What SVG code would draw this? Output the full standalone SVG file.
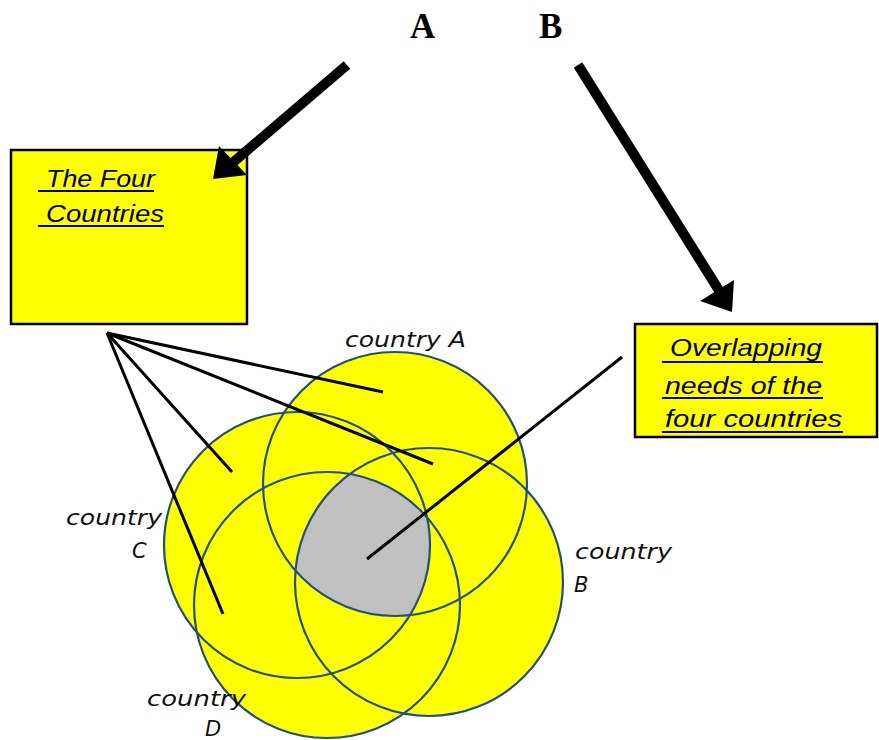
<svg xmlns="http://www.w3.org/2000/svg" width="879" height="740" viewBox="0 0 879 740">
<style>
.box{fill:#ffff00;stroke:#000;stroke-width:2.5}
.btxt{font-family:"Liberation Sans",Arial,sans-serif;font-style:italic;font-size:24px;fill:#000}
.ul{stroke:#000;stroke-width:2}
.ctxt{font-family:"DejaVu Sans","Liberation Sans",sans-serif;font-style:italic;font-size:21px;fill:#111}
.fill{fill:#ffff00}
.ring{fill:none;stroke:#1f4f88;stroke-width:2.2}
.conn{stroke:#000;stroke-width:3;stroke-linecap:butt;fill:none}
.big{stroke:#000;stroke-width:10;stroke-linecap:butt;fill:none}
.head{fill:#000}
.lbl{font-family:"Liberation Serif","Times New Roman",serif;font-weight:bold;font-size:35px;fill:#000}
</style>
<defs>
<clipPath id="cA"><circle cx="395" cy="484" r="132"/></clipPath>
<clipPath id="cB"><circle cx="429" cy="582" r="134"/></clipPath>
<clipPath id="cC"><circle cx="297" cy="545" r="133"/></clipPath>
</defs>
<rect width="879" height="740" fill="#fff"/>

<g id="label-A"><text class="lbl" x="410" y="38">A</text></g>
<g id="label-B"><text class="lbl" x="539" y="38">B</text></g>

<g id="venn">
<g id="fills">
<circle class="fill" cx="395" cy="484" r="132"/>
<circle class="fill" cx="297" cy="545" r="133"/>
<circle class="fill" cx="429" cy="582" r="134"/>
<circle class="fill" cx="327" cy="605" r="133"/>
</g>
<g id="overlap" clip-path="url(#cA)"><g clip-path="url(#cB)"><g clip-path="url(#cC)">
<circle cx="327" cy="605" r="133" fill="#c0c0c0"/>
</g></g></g>
<g id="country-A"><circle class="ring" cx="395" cy="484" r="132"/><text class="ctxt" x="345" y="347" textLength="121" lengthAdjust="spacingAndGlyphs">country A</text></g>
<g id="country-C"><circle class="ring" cx="297" cy="545" r="133"/><text class="ctxt" x="66" y="525" textLength="96" lengthAdjust="spacingAndGlyphs">country</text><text class="ctxt" x="132" y="558">C</text></g>
<g id="country-B"><circle class="ring" cx="429" cy="582" r="134"/><text class="ctxt" x="575" y="559" textLength="97" lengthAdjust="spacingAndGlyphs">country</text><text class="ctxt" x="574" y="592">B</text></g>
<g id="country-D"><circle class="ring" cx="327" cy="605" r="133"/><text class="ctxt" x="147" y="706" textLength="99" lengthAdjust="spacingAndGlyphs">country</text><text class="ctxt" x="205" y="736">D</text></g>
</g>

<g id="box-four">
<rect class="box" x="11" y="150" width="236" height="174"/>
<text class="btxt" x="46" y="187" textLength="109" lengthAdjust="spacingAndGlyphs">The Four</text>
<line class="ul" x1="38" y1="191" x2="154" y2="191"/>
<text class="btxt" x="46" y="222" textLength="118" lengthAdjust="spacingAndGlyphs">Countries</text>
<line class="ul" x1="38" y1="226" x2="164" y2="226"/>
</g>

<g id="box-overlap">
<rect class="box" x="635" y="324" width="242" height="113"/>
<text class="btxt" x="670" y="356" textLength="152" lengthAdjust="spacingAndGlyphs">Overlapping</text>
<line class="ul" x1="662" y1="362" x2="823" y2="362"/>
<text class="btxt" x="665" y="394" textLength="157" lengthAdjust="spacingAndGlyphs">needs of the</text>
<line class="ul" x1="662" y1="398" x2="823" y2="398"/>
<text class="btxt" x="665" y="427" textLength="177" lengthAdjust="spacingAndGlyphs">four countries</text>
<line class="ul" x1="662" y1="432" x2="843" y2="432"/>
</g>

<g id="connectors">
<line class="conn" x1="107" y1="333" x2="383" y2="392"/>
<line class="conn" x1="107" y1="333" x2="433" y2="464"/>
<line class="conn" x1="107" y1="333" x2="232" y2="472"/>
<line class="conn" x1="107" y1="333" x2="223" y2="614"/>
<line class="conn" x1="367" y1="559" x2="622" y2="357"/>
<line class="big" x1="347" y1="65" x2="230" y2="165"/>
<polygon class="head" points="213,179 219,146 247,175"/>
<line class="big" x1="578" y1="65" x2="720" y2="292"/>
<polygon class="head" points="732,312 734,280 700,301"/>
</g>
</svg>
